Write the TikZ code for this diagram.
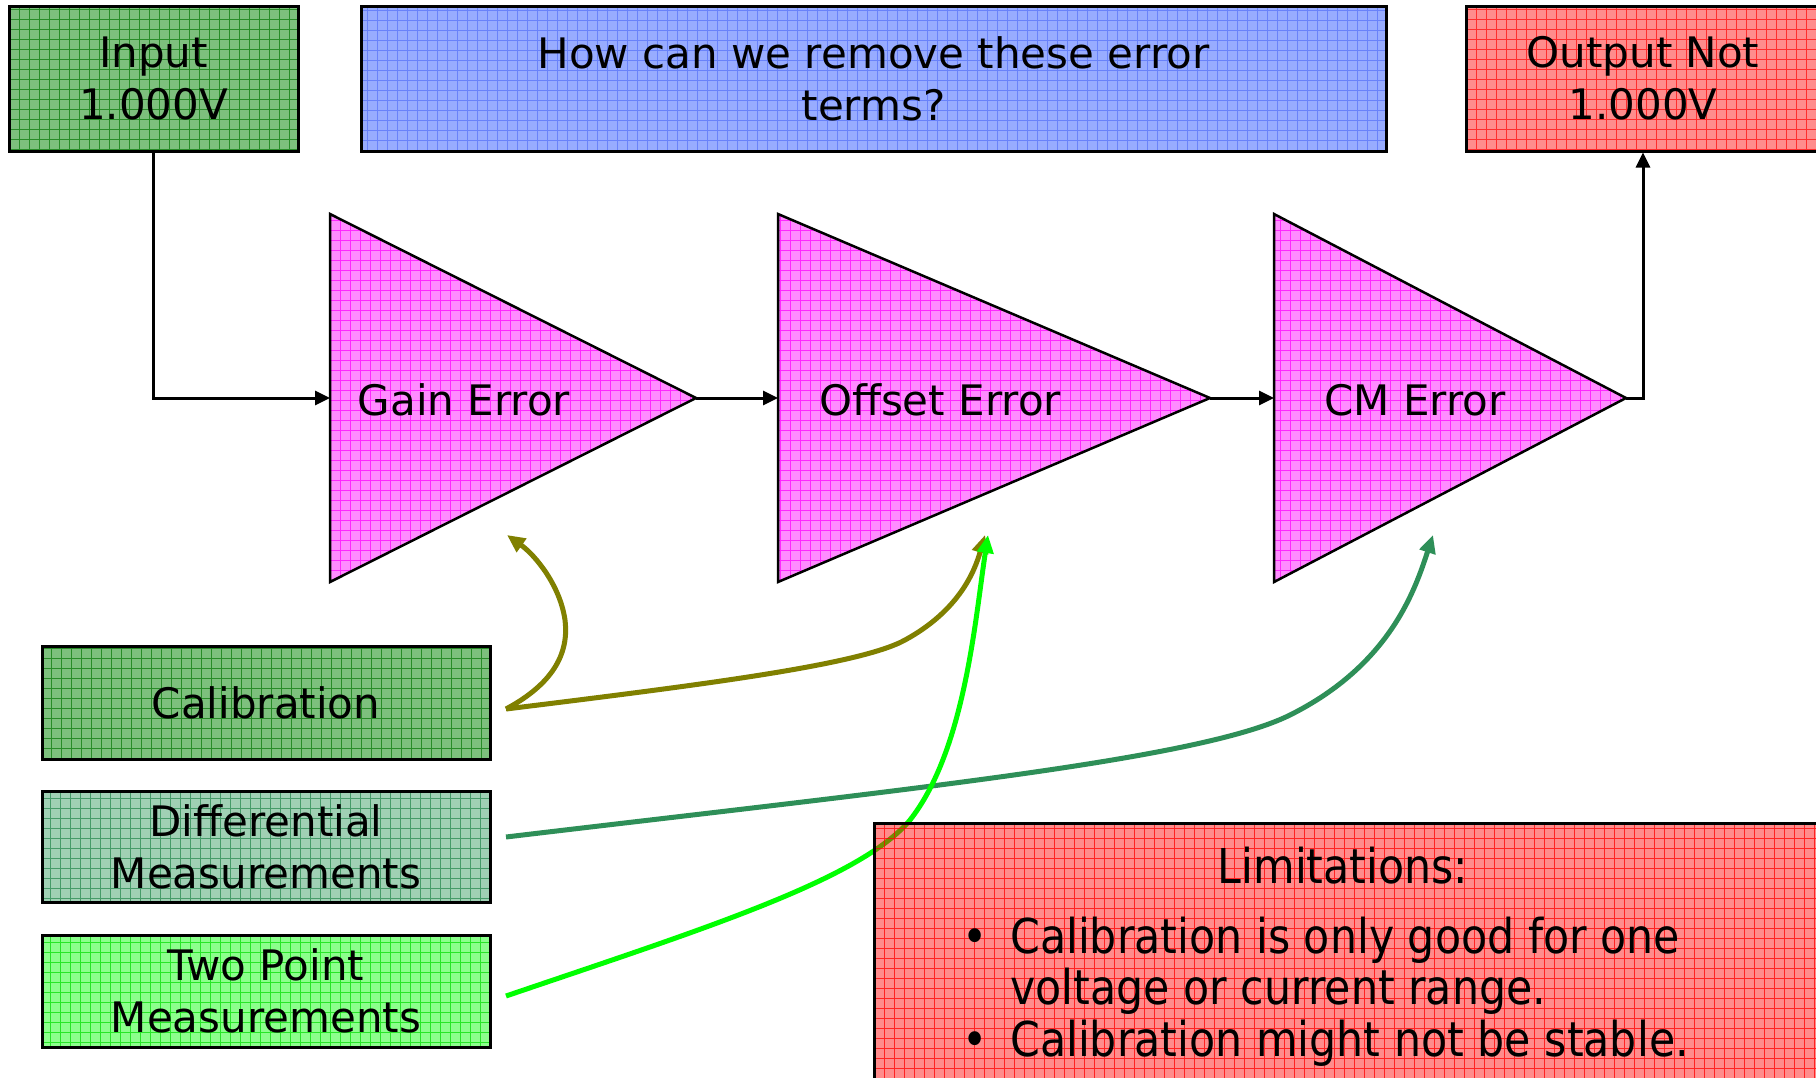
\documentclass[tikz,border=0pt]{standalone}
\usepackage{fontspec}
\setmainfont{DejaVu Sans}
\newfontfamily\condfont[FakeStretch=0.89]{DejaVu Sans}
\usetikzlibrary{arrows.meta}
\definecolor{inGreenL}{RGB}{125,192,125}
\definecolor{inGreenD}{RGB}{40,140,40}
\definecolor{blueL}{RGB}{152,172,255}
\definecolor{blueD}{RGB}{105,130,250}
\definecolor{redL}{RGB}{255,140,140}
\definecolor{redD}{RGB}{255,45,45}
\definecolor{magL}{RGB}{255,140,255}
\definecolor{magD}{RGB}{255,40,255}
\definecolor{seaL}{RGB}{160,208,180}
\definecolor{seaD}{RGB}{70,155,105}
\definecolor{limeL}{RGB}{140,255,140}
\definecolor{limeD}{RGB}{40,230,40}
\definecolor{olivearrow}{RGB}{128,128,0}
\definecolor{seaarrow}{RGB}{46,143,88}
\definecolor{limearrow}{RGB}{0,255,0}
\begin{document}
\begin{tikzpicture}[x=1pt,y=-1pt,
  font=\fontsize{42pt}{52pt}\selectfont,
  gridfill/.style 2 args={fill=#1,
    path picture={\draw[#2, line width=0.8pt] ([xshift=-20pt,yshift=-20pt]path picture bounding box.south west) grid[step=10pt] ([xshift=20pt,yshift=20pt]path picture bounding box.north east);}},
  gridbox/.style 2 args={draw=black, line width=3pt, gridfill={#1}{#2}, inner sep=0pt, align=center},
  amp/.style={draw=black, line width=2.5pt, line join=miter, gridfill={magL}{magD}},
  conn/.style={draw=black, line width=3pt, -{Triangle[length=15pt,width=14pt]}},
  fb/.style={line width=5pt, -{Triangle[length=18pt,width=16pt]}},
  limtext/.style={font=\condfont\fontsize{48pt}{51pt}\selectfont, inner sep=0pt, anchor=base west},
]
\useasboundingbox (0,0) rectangle (1816,1077);
\fill[white] (0,0) rectangle (1816,1077);

% top boxes
\node[gridbox={inGreenL}{inGreenD}, minimum width=289pt, minimum height=145pt] (input) at (153.5,78.5) {Input\\1.000V};
\node[gridbox={blueL}{blueD}, minimum width=1025pt, minimum height=145pt] (question) at (873.5,78.5) {How can we remove these error\\terms?};
\node[gridbox={redL}{redD}, minimum width=354pt, minimum height=145pt] (output) at (1643,78.5) {Output Not\\1.000V};

% amplifiers
\coordinate (g1) at (330,214); \coordinate (g2) at (330,582); \coordinate (gtip) at (696,398); \coordinate (gin) at (330,398);
\coordinate (o1) at (778,214); \coordinate (o2) at (778,582); \coordinate (otip) at (1210,398); \coordinate (oin) at (778,398);
\coordinate (c1) at (1274,214); \coordinate (c2) at (1274,582); \coordinate (ctip) at (1626,398); \coordinate (cin) at (1274,398);
\path[amp] (g1) -- (gtip) -- (g2) -- cycle;
\path[amp] (o1) -- (otip) -- (o2) -- cycle;
\path[amp] (c1) -- (ctip) -- (c2) -- cycle;
\node (gain) at (464,400) {Gain Error};
\node (offset) at (940,400) {Offset Error};
\node (cm) at (1415,400) {CM Error};

% signal chain
\draw[conn] (input.south) |- (gin);
\draw[conn] (gtip) -- (oin);
\draw[conn] (otip) -- (cin);
\draw[conn] (ctip) -| (output.south);

% remedies
\node[gridbox={inGreenL}{inGreenD}, minimum width=448pt, minimum height=113pt] (cal) at (266,702.5) {Calibration};
\node[gridbox={seaL}{seaD}, minimum width=448pt, minimum height=111pt] (diff) at (266,846.5) {Differential\\Measurements};
\node[gridbox={limeL}{limeD}, minimum width=448pt, minimum height=112pt] (two) at (266,991) {Two Point\\Measurements};

% feedback arrows
\coordinate (cs) at (506,709);
\coordinate (ds) at (506,837);
\coordinate (ts) at (506,996);
\coordinate (gfb) at (507,535);
\coordinate (ofb) at (985,535);
\coordinate (ofb2) at (988,535);
\coordinate (cfb) at (1433,535);
\draw[fb, olivearrow] (cs) .. controls (545,688) and (570,660) .. (565,620) .. controls (560,585) and (535,555) .. (gfb);
\draw[fb, olivearrow] (cs) .. controls (700,685) and (860,665) .. (905,640) .. controls (960,610) and (975,570) .. (ofb);
\draw[fb, seaarrow] (ds) .. controls (900,790) and (1200,760) .. (1290,715) .. controls (1390,665) and (1415,590) .. (cfb);
\draw[fb, limearrow] (ts) .. controls (700,930) and (860,880) .. (910,820) .. controls (965,750) and (975,620) .. (ofb2);

% limitations (semi-transparent, over the arrows)
\node[draw=black, line width=3pt, fill=red, fill opacity=0.45, text opacity=1, inner sep=0pt,
  path picture={\draw[red, draw opacity=0.75, line width=0.8pt] ([xshift=-20pt,yshift=-20pt]path picture bounding box.south west) grid[step=10pt] ([xshift=20pt,yshift=20pt]path picture bounding box.north east);},
  minimum width=980pt, minimum height=290pt, anchor=north west] (lim) at (873,822) {};
\node[limtext, anchor=base] (limtitle) at (1343,883) {Limitations:};
\node[limtext, anchor=base] (bul1) at (975,953) {•};
\node[limtext] (item1a) at (1010,953) {Calibration is only good for one};
\node[limtext] (item1b) at (1010,1004) {voltage or current range.};
\node[limtext, anchor=base] (bul2) at (975,1056) {•};
\node[limtext] (item2) at (1010,1056) {Calibration might not be stable.};
\end{tikzpicture}
\end{document}
